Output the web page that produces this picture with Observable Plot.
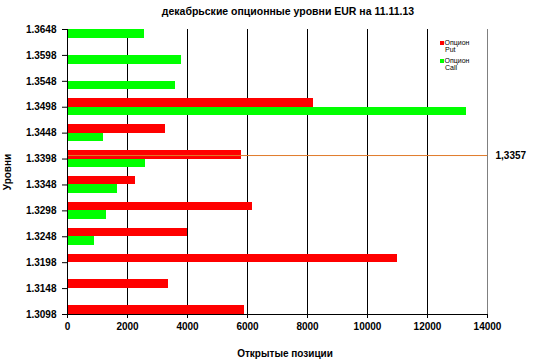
<!DOCTYPE html>
<html>
<head>
<meta charset="utf-8">
<script src="https://cdn.jsdelivr.net/npm/d3@7"></script>
<script src="https://cdn.jsdelivr.net/npm/@observablehq/plot@0.6"></script>
<style>
  html, body { margin: 0; padding: 0; background: #fff; }
  #wrap { position: relative; width: 534px; height: 363px; overflow: hidden; font-family: 'Liberation Sans', Arial, sans-serif; color: #000; }
  #wrap svg { position: absolute; left: 0; top: 0; }
  .abs { position: absolute; white-space: nowrap; font-weight: bold; }
  .lg { position: absolute; white-space: nowrap; font-size: 7px; line-height: 8px; }
  .sw { position: absolute; width: 4px; height: 4px; }
</style>
</head>
<body>
<div id="wrap"></div>
<script>
// ---- data ----
const levels = ["1.3098","1.3148","1.3198","1.3248","1.3298","1.3348","1.3398","1.3448","1.3498","1.3548","1.3598","1.3648"];
const putValues  = [5900, 3350, 11000, 4000, 6150, 2250, 5800, 3250, 8200, null, null, null];
const callValues = [null, null, null, 900, 1300, 1650, 2600, 1200, 13300, 3600, 3800, 2550];
const xTicks = [0, 2000, 4000, 6000, 8000, 10000, 12000, 14000];
const gridTicks = [2000, 4000, 6000, 8000, 10000, 12000];
const spotLevel = "1.3398";
const spotLabel = "1,3357";
const title = "декабрьские опционные уровни EUR на 11.11.13";
const xLabel = "Открытые позиции";
const yLabel = "Уровни";
const seriesNames = [["Опцион", "Put"], ["Опцион", "Call"]];
const colors = ["#ff0000", "#00ff00"];

// bar thickness as a fraction of the category step
const barFrac = 0.332;
const idx = levels.map((l, i) => i);
const putRows = levels.map((l, i) => ({i, level: l, value: putValues[i]})).filter(d => d.value != null);
const callRows = levels.map((l, i) => ({i, level: l, value: callValues[i]})).filter(d => d.value != null);
const spotIndex = levels.indexOf(spotLevel);

const chart = Plot.plot({
  width: 534,
  height: 363,
  marginTop: 29,
  marginBottom: 49,
  marginLeft: 67,
  marginRight: 47,
  style: {fontFamily: "'Liberation Sans', Arial, sans-serif", fontSize: "10px", fontWeight: "bold", color: "#000", background: "transparent", overflow: "visible"},
  x: {domain: [0, 14000], ticks: xTicks, tickSize: 4, tickPadding: 4, tickFormat: d3.format("d"), label: null},
  y: {domain: [0, levels.length - 1], ticks: idx, tickFormat: i => levels[i], tickSize: 5, tickPadding: 6, label: null},
  marks: [
    Plot.ruleX(gridTicks, {stroke: "#000", strokeWidth: 1}),
    Plot.ruleX([14000], {stroke: "#808080", strokeWidth: 1}),
    Plot.rect(putRows, {x1: d => 0, x2: "value", y1: "i", y2: d => d.i + barFrac, fill: colors[0], shapeRendering: "crispEdges"}),
    Plot.rect(callRows, {x1: d => 0, x2: "value", y1: d => d.i - barFrac, y2: "i", fill: colors[1], shapeRendering: "crispEdges"}),
    Plot.ruleY([spotIndex], {stroke: "#e07a2a", strokeWidth: 1, dy: -3.5}),
    Plot.text([spotLabel], {x: () => 14000, y: () => spotIndex, text: d => d, dx: 8, dy: -3.5, textAnchor: "start", fontSize: 10, fontWeight: "bold", fill: "#000"}),
    Plot.ruleX([0], {stroke: "#000"}),
    Plot.ruleY([0], {stroke: "#000"})
  ]
});

const wrap = document.getElementById("wrap");
wrap.appendChild(chart);

function addDiv(cls, text, styles) {
  const d = document.createElement("div");
  d.className = cls;
  d.textContent = text;
  Object.assign(d.style, styles);
  wrap.appendChild(d);
  return d;
}
addDiv("abs", title, {left: "288px", top: "5px", fontSize: "10.5px", lineHeight: "12px", transform: "translateX(-50%)"});
addDiv("abs", xLabel, {left: "285px", top: "348px", fontSize: "10px", lineHeight: "12px", transform: "translateX(-50%)"});
addDiv("abs", yLabel, {left: "8px", top: "172px", fontSize: "10px", lineHeight: "12px", transform: "translate(-50%,-50%) rotate(-90deg)"});

// legend
const lgTops = [38.5, 56.5];
seriesNames.forEach((nm, i) => {
  const sw = document.createElement("div");
  sw.className = "sw";
  Object.assign(sw.style, {left: "440px", top: (lgTops[i] + 2) + "px", background: colors[i]});
  wrap.appendChild(sw);
  addDiv("lg", nm[0], {left: "444.5px", top: lgTops[i] + "px"});
  addDiv("lg", nm[1], {left: "445px", top: (lgTops[i] + 7.5) + "px"});
});
</script>
</body>
</html>
